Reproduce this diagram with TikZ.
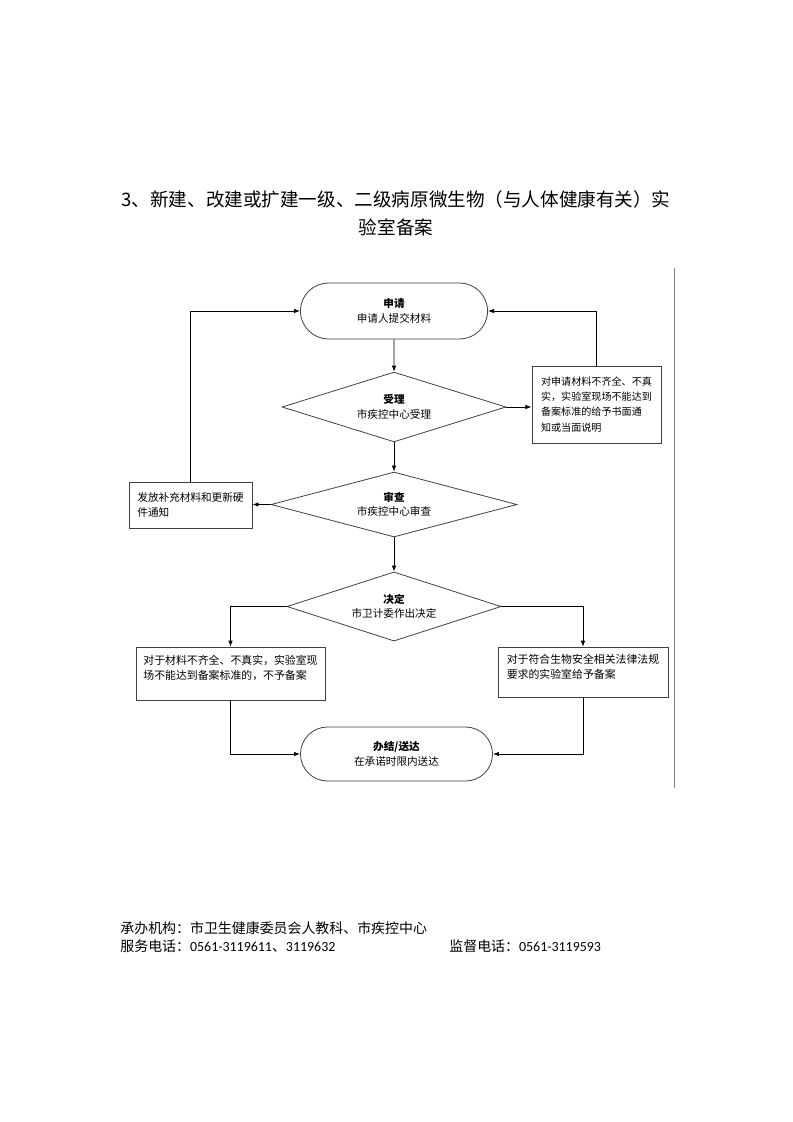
\documentclass[tikz,border=0pt]{standalone}
\usepackage{fontspec}
\setmainfont{Noto Sans CJK SC}
\newfontfamily\latinfont{Carlito}
\usetikzlibrary{shapes.geometric,shapes.misc,arrows.meta}

\begin{document}
\begin{tikzpicture}[x=0.26482mm, y=-0.26482mm, line width=0.6pt,
  >={Latex[length=1.6mm,width=1.2mm]},
  term/.style={rounded rectangle, draw=black!75, align=center, font=\fontsize{8}{11}\selectfont},
  decision/.style={diamond, draw=black!75, aspect=3.2, inner sep=0pt, align=center, font=\fontsize{8}{11}\selectfont},
  infobox/.style={rectangle, draw=black!75, align=left, font=\fontsize{8.2}{11.3}\selectfont},
  foot/.style={anchor=west, inner sep=0pt, font=\fontsize{10.5}{12}\selectfont}]

\useasboundingbox (0,0) rectangle (793,1122);

\node[align=center, font=\fontsize{14}{21}\selectfont] (title) at (396,213) {3、新建、改建或扩建一级、二级病原微生物（与人体健康有关）实\\验室备案};

\node[term, minimum width=51.9mm, minimum height=14.8mm] (apply) at (394,311) {\textbf{申请}\\申请人提交材料};
\node[decision, minimum width=59.3mm, minimum height=18.5mm] (accept) at (394,407) {\textbf{受理}\\市疾控中心受理};
\node[infobox, font=\fontsize{7.6}{11.5}\selectfont, minimum width=34.2mm, minimum height=20.4mm] (reject) at (596.5,404.5) {对申请材料不齐全、不真\\实，实验室现场不能达到\\备案标准的给予书面通\\知或当面说明};

\node[decision, minimum width=65.1mm, minimum height=17.2mm] (review) at (394,504.5) {\textbf{审查}\\市疾控中心审查};
\node[infobox, font=\fontsize{8}{11.3}\selectfont, minimum width=32.6mm, minimum height=12.2mm] (supply) at (190.5,505) {发放补充材料和更新硬\\件通知};

\node[decision, minimum width=56.7mm, minimum height=18.3mm] (decide) at (394,606.5) {\textbf{决定}\\市卫计委作出决定};
\node[infobox, minimum width=50.1mm, inner ysep=1.97mm, text height=6.49mm, text depth=3.57mm] (refuse) at (230.5,673.5) {对于材料不齐全、不真实，实验室现\\场不能达到备案标准的，不予备案};
\node[infobox, minimum width=45mm, inner ysep=1.78mm, text height=6.49mm, text depth=3.15mm] (grant) at (583,672) {对于符合生物安全相关法律法规\\要求的实验室给予备案};

\node[term, minimum width=53.2mm, minimum height=14.3mm] (finish) at (396.5,754) {\textbf{办结/送达}\\在承诺时限内送达};

\draw[->] (apply) to (accept);
\draw[->] (accept.east) to (accept.east -| reject.west);
\draw[->] (reject.north) |- (apply.east);
\draw[->] (accept) to (review);
\draw[->] (review.west) to (review.west -| supply.east);
\draw[->] (supply.north) |- (apply.west);
\draw[->] (review) to (decide);
\draw[->] (decide.west) -| (refuse.north);
\draw[->] (decide.east) -| (grant.north);
\draw[->] (refuse.south) |- (finish.west);
\draw[->] (grant.south) |- (finish.east);

\coordinate (railtop) at (674,268);
\coordinate (railbot) at (674,788);
\draw[black!50] (railtop) to (railbot);

\node[foot] (org) at (120,928) {承办机构：市卫生健康委员会人教科、市疾控中心};
\node[foot] (tel) at (120,946) {服务电话：{\latinfont 0561-3119611}、{\latinfont 3119632}};
\node[foot] (sup) at (449,946) {监督电话：{\latinfont 0561-3119593}};

\end{tikzpicture}
\end{document}
